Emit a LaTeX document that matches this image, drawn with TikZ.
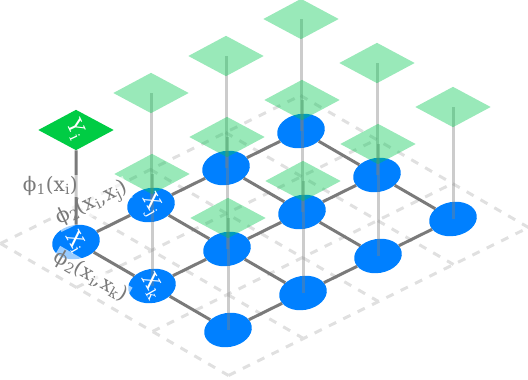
\documentclass[tikz,border=0pt]{standalone}
\usepackage{fontspec}
\setmainfont{DejaVu Serif}
\usepackage{tikz}
\usetikzlibrary{shapes.geometric}

\definecolor{nodeblue}{RGB}{0,128,255}
\definecolor{ygreen}{RGB}{0,204,68}
\definecolor{planegreen}{RGB}{0,200,80}
\definecolor{edgegray}{RGB}{122,122,122}

\tikzset{
    var/.style={ellipse, fill=nodeblue, minimum width=48pt, minimum height=34pt, inner sep=0pt, rotate=10},
    vartext/.style={text=white, rotate=-60, font=\fontsize{21}{21}\selectfont},
    cell/.style={diamond, minimum width=75.5pt, minimum height=40.5pt, inner sep=0pt},
    edge/.style={edgegray, line width=3pt},
    stem/.style={black!50, opacity=0.4, line width=3pt},
    ground/.style={black!12, line width=3pt, dash pattern=on 8pt off 8pt},
    flabel/.style={text=edgegray, fill=white, fill opacity=0.6, text opacity=1, inner sep=1pt, font=\fontsize{20}{22}\selectfont}
}

\begin{document}
\begin{tikzpicture}[x=1pt, y=-1pt]
    \useasboundingbox (0, 0) rectangle (528, 380);
    % Ground grid
    \foreach \p in {-0.5, 0.5, ..., 3.5}
        \draw [ground] ({38 + 75*\p}, {225 - 37*\p}) -- ++(228, 132);
    \foreach \q in {-0.5, 0.5, ..., 2.5}
        \draw [ground] ({38.5 + 76*\q}, {265.5 + 44*\q}) -- ++(300, -148);
    % Variables
    \foreach \p in {0, ..., 3}
        \foreach \q in {0, ..., 2} {
            \node [var] (n\p\q) at ({76 + 75*\p + 76*\q}, {242 - 37*\p + 44*\q}) {};
            \coordinate (y\p\q) at ({76 + 75*\p + 76*\q}, {130 - 37*\p + 44*\q});
        }
    % Pairwise edges
    \foreach \p [count=\r from 1] in {0, 1, 2}
        \foreach \q in {0, 1, 2}
            \draw [edge] (n\p\q) -- (n\r\q);
    \foreach \p in {0, ..., 3}
        \foreach \q [count=\r from 1] in {0, 1}
            \draw [edge] (n\p\q) -- (n\p\r);
    % Stems up to the label planes
    \foreach \p in {0, ..., 3}
        \foreach \q in {0, ..., 2} {
            \ifnum\p\q>0
                \draw [stem] (n\p\q.center) -- (y\p\q);
            \fi
        }
    % Label planes
    \foreach \p in {0, ..., 3}
        \foreach \q in {0, ..., 2} {
            \ifnum\p\q>0
                \node [cell, fill=planegreen, fill opacity=0.4] (Y\p\q) at (y\p\q) {};
            \fi
        }
    \node [cell, fill=ygreen] (Y00) at (y00) {};
    \node [vartext, rotate=-5] at (Y00) {Y\textsubscript{i}};
    % Factors
    \node [flabel, rotate=26] (f2) at (92, 204) {ϕ\textsubscript{2}(x\textsubscript{i},x\textsubscript{j})};
    \node [flabel, rotate=-30] (f3) at (91, 276) {ϕ\textsubscript{2}(x\textsubscript{i},x\textsubscript{k})};
    \draw [edge] (n00) -- (Y00);
    \node [flabel, anchor=east] (f1) at (79, 186) {ϕ\textsubscript{1}(x\textsubscript{i})};
    % Variable names
    \node [vartext] at (n00) {X\textsubscript{i}};
    \node [vartext] at (n10) {X\textsubscript{j}};
    \node [vartext] at (n01) {X\textsubscript{k}};
\end{tikzpicture}
\end{document}
